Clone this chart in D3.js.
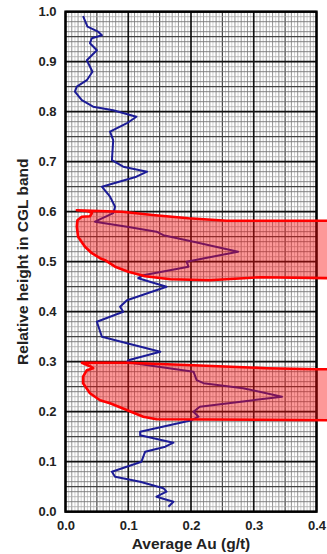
<!DOCTYPE html>
<html><head><meta charset="utf-8">
<script src="https://cdn.jsdelivr.net/npm/d3@7"></script>
<style>html,body{margin:0;padding:0;background:#fff;}svg{display:block;}</style>
</head><body>
<svg id="c" width="327" height="554"></svg>
<script>
// Average Au (g/t) vs relative height
const auValues = [0.028,0.035,0.052,0.058,0.042,0.039,0.050,0.034,0.043,0.034,0.018,0.015,0.026,0.044,0.076,0.113,0.098,0.071,0.076,0.074,0.092,0.130,0.113,0.058,0.071,0.079,0.076,0.047,0.098,0.145,0.156,0.204,0.275,0.193,0.196,0.124,0.116,0.161,0.098,0.087,0.092,0.050,0.058,0.098,0.151,0.100,0.098,0.204,0.209,0.220,0.283,0.345,0.299,0.214,0.204,0.212,0.201,0.119,0.119,0.172,0.159,0.127,0.121,0.074,0.079,0.119,0.156,0.161,0.145,0.172,0.164];
const heights  = [0.991,0.970,0.960,0.953,0.947,0.937,0.923,0.903,0.880,0.863,0.850,0.840,0.823,0.810,0.803,0.790,0.777,0.760,0.743,0.703,0.690,0.680,0.670,0.650,0.630,0.610,0.597,0.580,0.570,0.560,0.553,0.540,0.520,0.500,0.490,0.473,0.467,0.450,0.423,0.410,0.400,0.380,0.350,0.337,0.320,0.303,0.299,0.280,0.263,0.257,0.247,0.230,0.223,0.210,0.200,0.190,0.183,0.160,0.153,0.138,0.130,0.120,0.100,0.080,0.070,0.060,0.047,0.040,0.030,0.020,0.010];
// highlighted zones (outline vertices, in data units)
const zone1X = [0.018,0.090,0.143,0.196,0.257,0.400,0.420,0.420,0.310,0.230,0.167,0.127,0.100,0.079,0.063,0.055,0.042,0.031,0.020,0.018,0.019,0.026,0.039,0.042,0.036];
const zone1Y = [0.603,0.600,0.593,0.587,0.582,0.582,0.582,0.467,0.469,0.463,0.465,0.471,0.480,0.490,0.503,0.507,0.517,0.530,0.550,0.570,0.583,0.590,0.591,0.597,0.601];
const zone2X = [0.026,0.098,0.204,0.321,0.400,0.420,0.420,0.145,0.124,0.071,0.055,0.039,0.028,0.028,0.034,0.044,0.039,0.028];
const zone2Y = [0.298,0.298,0.293,0.287,0.285,0.285,0.183,0.185,0.190,0.217,0.223,0.237,0.257,0.270,0.283,0.287,0.291,0.297];
const xTicks = [0.0,0.1,0.2,0.3,0.4];
const yTicks = [0.0,0.1,0.2,0.3,0.4,0.5,0.6,0.7,0.8,0.9,1.0];

const svg = d3.select("#c");
const L=65.5, R=316.5, T=11.7, B=511.7;
const x = d3.scaleLinear().domain([0,0.4]).range([L,R]);
const y = d3.scaleLinear().domain([0,1]).range([B,T]);
const font = "'Liberation Sans', Arial, Helvetica, sans-serif";

// grid
const g = svg.append("g");
const xs = d3.range(0,81).map(i=>i*0.005);
xs.forEach((v,i)=>{
  let col="#c4c4c4", w=0.8;
  if(i%20===0) return;
  else if(i%10===0){col="#444";w=1.2;}
  else if(i%2===0){col="#888";w=0.9;}
  g.append("line").attr("x1",x(v)).attr("x2",x(v)).attr("y1",T).attr("y2",B).attr("stroke",col).attr("stroke-width",w);
});
const ys = d3.range(0,101).map(i=>i*0.01);
ys.forEach((v,i)=>{
  let col="#aaa", w=0.8;
  if(i%10===0) return;
  else if(i%5===0){col="#444";w=1.2;}
  else if(i%2===0){col="#777";w=0.9;}
  g.append("line").attr("y1",y(v)).attr("y2",y(v)).attr("x1",L).attr("x2",R).attr("stroke",col).attr("stroke-width",w);
});
xTicks.forEach(v=>g.append("line").attr("x1",x(v)).attr("x2",x(v)).attr("y1",T).attr("y2",B).attr("stroke","#111").attr("stroke-width",1.7));
yTicks.forEach(v=>g.append("line").attr("y1",y(v)).attr("y2",y(v)).attr("x1",L).attr("x2",R).attr("stroke","#111").attr("stroke-width",1.7));
svg.append("rect").attr("x",L).attr("y",T).attr("width",R-L).attr("height",B-T).attr("fill","none").attr("stroke","#000").attr("stroke-width",2.4);

// data line
const pts = auValues.map((v,i)=>[v,heights[i]]);
svg.append("path").datum(pts)
  .attr("d", d3.line().x(d=>x(d[0])).y(d=>y(d[1])))
  .attr("fill","none").attr("stroke","#1c1c96").attr("stroke-width",2).attr("stroke-linejoin","round");

// zones
const zoneLine = d3.line().x(d=>x(d[0])).y(d=>y(d[1])).curve(d3.curveLinearClosed);
[[zone1X,zone1Y],[zone2X,zone2Y]].forEach(([zx,zy])=>{
  const p = zx.map((v,i)=>[v,zy[i]]);
  svg.append("path").datum(p).attr("d",zoneLine)
    .attr("fill","rgba(250,10,10,0.42)").attr("stroke","#ff0000").attr("stroke-width",2.6).attr("stroke-linejoin","round");
});

// axes labels
const xAxis = d3.axisBottom(x).tickValues(xTicks).tickFormat(d3.format(".1f")).tickSize(0).tickPadding(9);
const ax = svg.append("g").attr("transform",`translate(0,${B})`).call(xAxis);
ax.select(".domain").remove();
ax.selectAll("text").attr("font-family",font).attr("font-weight","bold").attr("font-size",13).attr("fill","#222");
const yAxis = d3.axisLeft(y).tickValues(yTicks).tickFormat(d3.format(".1f")).tickSize(0).tickPadding(9);
const ay = svg.append("g").attr("transform",`translate(${L},0)`).call(yAxis);
ay.select(".domain").remove();
ay.selectAll("text").attr("font-family",font).attr("font-weight","bold").attr("font-size",13).attr("fill","#222");

svg.append("text").attr("x",(L+R)/2).attr("y",549).attr("text-anchor","middle")
  .attr("font-family",font).attr("font-weight","bold").attr("font-size",15.5).attr("fill","#222").text("Average Au (g/t)");
svg.append("text").attr("transform",`translate(28,${(T+B)/2}) rotate(-90)`).attr("text-anchor","middle")
  .attr("font-family",font).attr("font-weight","bold").attr("font-size",15.5).attr("fill","#222").text("Relative height in CGL band");
</script>
</body></html>
